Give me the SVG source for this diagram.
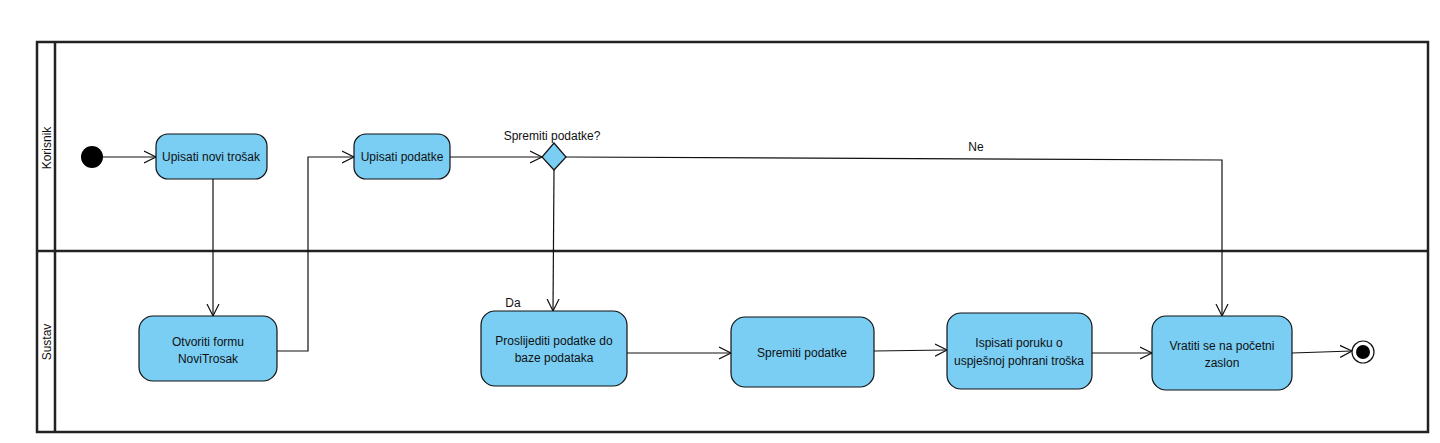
<svg xmlns="http://www.w3.org/2000/svg" width="1440" height="443" viewBox="0 0 1440 443">
<defs>
<style>
.lane{fill:none;stroke:#222;stroke-width:2.5}
.act{fill:#7ACEF4;stroke:#111;stroke-width:1.2}
.t{font-family:"Liberation Sans",Arial,sans-serif;font-size:12px;fill:#111;text-anchor:middle}
.c{fill:none;stroke:#111;stroke-width:1.2}
</style>
<marker id="arr" markerWidth="14" markerHeight="14" refX="12" refY="7" orient="auto" markerUnits="userSpaceOnUse">
<path d="M0,1 L12,7 L0,13" fill="none" stroke="#111" stroke-width="1.2"/>
</marker>
</defs>
<rect width="1440" height="443" fill="#fff"/>
<g id="pool">
<rect class="lane" x="37" y="42" width="1391" height="390"/>
<line class="lane" x1="55" y1="42" x2="55" y2="432" stroke-width="3"/>
<line class="lane" x1="37" y1="251" x2="1428" y2="251" stroke-width="3"/>
<text class="t" transform="translate(51,148) rotate(-90)">Korisnik</text>
<text class="t" transform="translate(51,342) rotate(-90)">Sustav</text>
</g>
<g id="connectors">
<line class="c" x1="103" y1="157" x2="156" y2="157" marker-end="url(#arr)"/>
<line class="c" x1="213" y1="179" x2="213" y2="316" marker-end="url(#arr)"/>
<polyline class="c" points="277,351 308,351 308,157 354,157" marker-end="url(#arr)"/>
<line class="c" x1="450" y1="157" x2="542" y2="157" marker-end="url(#arr)"/>
<polyline class="c" points="566,157 1222,160 1222,316" marker-end="url(#arr)"/>
<line class="c" x1="554" y1="170" x2="553" y2="311" marker-end="url(#arr)"/>
<line class="c" x1="627" y1="353" x2="731" y2="353" marker-end="url(#arr)"/>
<line class="c" x1="874" y1="351" x2="947" y2="350" marker-end="url(#arr)"/>
<line class="c" x1="1092" y1="353" x2="1152" y2="353" marker-end="url(#arr)"/>
<line class="c" x1="1292" y1="353" x2="1352" y2="351" marker-end="url(#arr)"/>
<text class="t" x="552" y="140">Spremiti podatke?</text>
<text class="t" x="976" y="151">Ne</text>
<text class="t" x="513" y="307">Da</text>
</g>
<g id="start"><circle cx="92" cy="157" r="11" fill="#000"/></g>
<g id="n1"><rect class="act" x="156" y="134" width="111" height="45" rx="12"/><text class="t" x="211" y="161">Upisati novi trošak</text></g>
<g id="n2"><rect class="act" x="354" y="134" width="96" height="45" rx="12"/><text class="t" x="402" y="161">Upisati podatke</text></g>
<g id="decision"><polygon class="act" points="554,143 566,157 554,170 542,157"/></g>
<g id="n3"><rect class="act" x="139" y="316" width="138" height="65" rx="14"/><text class="t" x="208" y="346">Otvoriti formu</text><text class="t" x="208" y="363">NoviTrosak</text></g>
<g id="n4"><rect class="act" x="481" y="311" width="146" height="75" rx="14"/><text class="t" x="554" y="345">Proslijediti podatke do</text><text class="t" x="554" y="362">baze podataka</text></g>
<g id="n5"><rect class="act" x="731" y="317" width="143" height="70" rx="14"/><text class="t" x="802" y="357">Spremiti podatke</text></g>
<g id="n6"><rect class="act" x="947" y="313" width="145" height="76" rx="14"/><text class="t" x="1019" y="347">Ispisati poruku o</text><text class="t" x="1019" y="365">uspješnoj pohrani troška</text></g>
<g id="n7"><rect class="act" x="1152" y="316" width="140" height="74" rx="14"/><text class="t" x="1222" y="350">Vratiti se na početni</text><text class="t" x="1222" y="367">zaslon</text></g>
<g id="end"><circle cx="1363" cy="352" r="11" fill="#fff" stroke="#111" stroke-width="1.2"/><circle cx="1363" cy="352" r="7" fill="#000"/></g>
</svg>
